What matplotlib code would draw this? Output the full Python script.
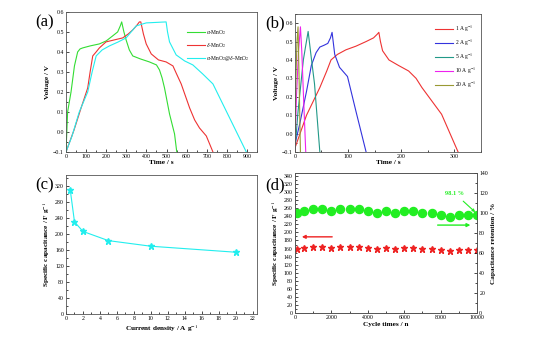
import matplotlib
matplotlib.use("Agg")
import matplotlib.pyplot as plt
from matplotlib.ticker import MultipleLocator, AutoMinorLocator

plt.rcParams['font.family'] = ['Liberation Serif', 'DejaVu Serif']
plt.rcParams['mathtext.fontset'] = 'stix'

# (a) GCD curves at 1 A/g
a_alpha_t = [0, 8, 25, 42, 58, 70, 83, 120, 166, 200, 232, 257, 270, 277, 288, 299, 315, 332,
             370, 415, 450, 465, 478, 490, 515, 530, 540, 551]
a_alpha_v = [-0.1, 0.1, 0.2, 0.33, 0.40, 0.415, 0.42, 0.43, 0.44, 0.455, 0.48, 0.50, 0.53, 0.55,
             0.50, 0.46, 0.41, 0.38, 0.365, 0.35, 0.335, 0.31, 0.27, 0.22, 0.09, 0.03, -0.01, -0.1]
a_delta_t = [0, 40, 75, 108, 120, 133, 150, 166, 199, 240, 282, 310, 332, 350, 365, 372, 385,
             399, 424, 460, 498, 532, 550, 573, 615, 640, 664, 698, 731]
a_delta_v = [-0.1, 0.01, 0.12, 0.22, 0.30, 0.38, 0.40, 0.42, 0.45, 0.46, 0.47, 0.49, 0.51, 0.53,
             0.55, 0.55, 0.49, 0.44, 0.39, 0.36, 0.35, 0.33, 0.29, 0.24, 0.12, 0.06, 0.02, -0.02, -0.1]
a_comp_t = [0, 30, 66, 108, 130, 150, 180, 216, 260, 299, 349, 399, 498, 505, 515, 548, 590,
            631, 680, 731, 770, 814, 897]
a_comp_v = [-0.1, -0.02, 0.1, 0.2, 0.3, 0.38, 0.41, 0.43, 0.45, 0.47, 0.53, 0.545, 0.55, 0.50,
            0.45, 0.385, 0.355, 0.335, 0.29, 0.24, 0.16, 0.07, -0.1]

# (b) composite at different current densities
b1_t = [0, 22, 47, 60, 68, 80, 96, 115, 134, 148, 155, 158, 161, 165, 177, 195, 214, 228,
        239, 276, 307]
b1_v = [-0.08, 0.10, 0.25, 0.34, 0.40, 0.43, 0.455, 0.475, 0.50, 0.52, 0.54, 0.55, 0.50, 0.45,
        0.40, 0.37, 0.34, 0.30, 0.25, 0.105, -0.1]
b2_t = [0, 9, 22, 31, 40, 47, 55, 62, 67, 70, 75, 84, 93, 99, 115, 134]
b2_v = [-0.06, 0.05, 0.23, 0.37, 0.44, 0.47, 0.48, 0.49, 0.52, 0.55, 0.43, 0.36, 0.33, 0.31,
        0.12, -0.1]
b5_t = [0, 6, 16, 20, 25, 31, 37, 47]
b5_v = [-0.095, 0.12, 0.40, 0.47, 0.555, 0.41, 0.27, -0.1]
b10_t = [0, 3, 7, 10.5, 13, 17, 20.5]
b10_v = [-0.1, 0.2, 0.45, 0.58, 0.45, 0.15, -0.1]
b20_t = [0, 2, 4, 6, 8, 10.5]
b20_v = [-0.1, 0.3, 0.5, 0.58, 0.3, -0.1]

# (c) rate capability
c_density = [0.5, 1, 2, 5, 10, 20]
c_capacitance = [311, 231, 207, 184, 170, 155]

# (d) cycling
d_cycles = [100, 500, 1000, 1500, 2000, 2500, 3000, 3500, 4000, 4500, 5000,
            5500, 6000, 6500, 7000, 7500, 8000, 8500, 9000, 9500, 10000]
d_capacitance = [160, 162, 165, 165, 161, 165, 165, 165, 162, 158, 162,
                 158, 162, 162, 158, 158, 156, 153, 156, 156, 156]
d_retention = [100, 102, 104.5, 104.5, 102, 104, 104, 104, 102, 100, 102,
               100, 102.5, 102.5, 100, 100, 98.5, 96.5, 98.5, 98.5, 98.1]

fig = plt.figure(figsize=(5.41, 3.40), dpi=100)
TICK = 4.2
LAB = 5.2
LW = 0.8

def style(ax, xmaj, ymaj):
    ax.tick_params(axis='both', which='both', direction='in', labelsize=TICK,
                   length=2, width=0.5, pad=1.5, top=False, right=False)
    ax.tick_params(which='minor', length=1.2)
    ax.xaxis.set_major_locator(MultipleLocator(xmaj))
    ax.yaxis.set_major_locator(MultipleLocator(ymaj))
    ax.xaxis.set_minor_locator(AutoMinorLocator(2))
    ax.yaxis.set_minor_locator(AutoMinorLocator(2))
    for s in ax.spines.values():
        s.set_linewidth(0.6)
        s.set_color('#555555')

# (a)
axa = fig.add_axes([0.122, 0.553, 0.353, 0.412])
axa.plot(a_alpha_t, a_alpha_v, color='#33dd33', lw=LW, label=r'$\alpha$-MnO$_2$')
axa.plot(a_delta_t, a_delta_v, color='#ee3333', lw=LW, label=r'$\delta$-MnO$_2$')
axa.plot(a_comp_t, a_comp_v, color='#22eeee', lw=LW, label=r'$\alpha$-MnO$_2$@$\delta$-MnO$_2$')
axa.set_xlim(0, 950)
axa.set_ylim(-0.1, 0.6)
style(axa, 100, 0.1)
axa.set_xlabel('Time / s', fontsize=LAB, fontweight='bold', labelpad=1)
axa.set_ylabel('Voltage / V', fontsize=LAB, fontweight='bold', labelpad=2)
axa.legend(loc='upper right', fontsize=4, frameon=False, handlelength=3.2,
           bbox_to_anchor=(0.99, 0.92), labelspacing=0.7, handletextpad=0.3)
fig.text(0.065, 0.935, '(a)', fontsize=12, ha='left', va='center')

# (b)
axb = fig.add_axes([0.545, 0.553, 0.344, 0.406])
axb.plot(b1_t, b1_v, color='#ee3333', lw=LW, label=r'1 A g$^{-1}$')
axb.plot(b2_t, b2_v, color='#3333dd', lw=LW, label=r'2 A g$^{-1}$')
axb.plot(b5_t, b5_v, color='#229988', lw=LW, label=r'5 A g$^{-1}$')
axb.plot(b10_t, b10_v, color='#ee22ee', lw=LW, label=r'10 A g$^{-1}$')
axb.plot(b20_t, b20_v, color='#999933', lw=LW, label=r'20 A g$^{-1}$')
axb.set_xlim(0, 350)
axb.set_ylim(-0.1, 0.65)
style(axb, 100, 0.1)
axb.set_xlabel('Time / s', fontsize=LAB, fontweight='bold', labelpad=1)
axb.set_ylabel('Voltage / V', fontsize=LAB, fontweight='bold', labelpad=2)
axb.legend(loc='upper right', fontsize=4, frameon=False, handlelength=3.2,
           bbox_to_anchor=(1.0, 0.97), labelspacing=0.55, handletextpad=0.3)
fig.text(0.49, 0.93, '(b)', fontsize=12, ha='left', va='center')

# (c)
axc = fig.add_axes([0.122, 0.076, 0.353, 0.409])
axc.plot(c_density, c_capacitance, color='#22eeee', lw=LW, marker='*',
         markersize=4.5)
axc.set_xlim(0, 22.5)
axc.set_ylim(0, 348)
style(axc, 2, 40)
axc.set_xlabel(r'Current density / A g$^{-1}$', fontsize=LAB, fontweight='bold', labelpad=1)
axc.set_ylabel(r'Specific capacitance / F g$^{-1}$', fontsize=LAB, fontweight='bold', labelpad=2)
fig.text(0.065, 0.455, '(c)', fontsize=12, ha='left', va='center')

# (d)
axd = fig.add_axes([0.545, 0.079, 0.337, 0.412])
axd.plot(d_cycles, d_capacitance, linestyle='none', marker='*', color='#ee2222',
         markersize=5)
axd.set_xlim(0, 10000)
axd.set_ylim(0, 347)
style(axd, 2000, 20)
axd.set_xlabel('Cycle times / n', fontsize=LAB, fontweight='bold', labelpad=1)
axd.set_ylabel(r'Specific capacitance / F g$^{-1}$', fontsize=LAB, fontweight='bold', labelpad=2)
axd2 = axd.twinx()
axd2.plot(d_cycles, d_retention, linestyle='none', marker='o', color='#22ee22',
          markersize=5.8)
axd2.set_ylim(0, 140)
axd2.tick_params(axis='y', which='both', direction='in', labelsize=TICK,
                 length=2, width=0.5, pad=1.5)
axd2.tick_params(which='minor', length=1.2)
axd2.yaxis.set_major_locator(MultipleLocator(20))
axd2.yaxis.set_minor_locator(AutoMinorLocator(2))
axd2.set_ylabel('Capacitance retention / %', fontsize=LAB, fontweight='bold', labelpad=2)
for s in axd2.spines.values():
    s.set_linewidth(0.6)
    s.set_color('#555555')
axd.annotate('', xy=(230, 189), xytext=(2200, 189),
             arrowprops=dict(arrowstyle='-|>', color='#ee2222', lw=1.0,
                             mutation_scale=5))
axd2.annotate('', xy=(9780, 88), xytext=(7680, 88),
              arrowprops=dict(arrowstyle='-|>', color='#22ee22', lw=1.0,
                              mutation_scale=5))
axd2.annotate('98.1 %', xy=(9950, 100), xytext=(8750, 120),
              fontsize=4.5, fontweight='bold', color='#22ee22', ha='center', va='center',
              arrowprops=dict(arrowstyle='-|>', color='#22ee22', lw=0.8,
                              mutation_scale=4, shrinkA=3, shrinkB=1))
fig.text(0.49, 0.455, '(d)', fontsize=12, ha='left', va='center')

fig.savefig('out.png', dpi=100)
